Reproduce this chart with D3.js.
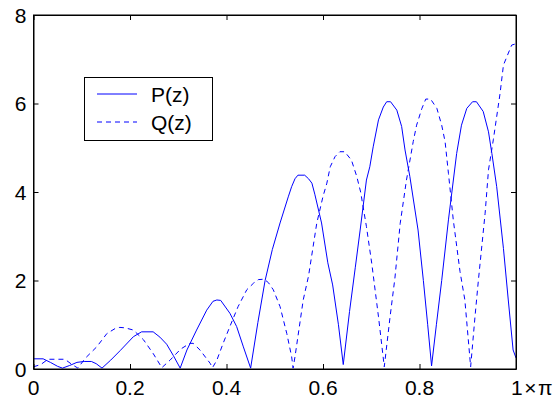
<!DOCTYPE html>
<html><head><meta charset="utf-8">
<script src="https://cdn.jsdelivr.net/npm/d3@7"></script>
<style>body{margin:0;background:#fff}svg{display:block}text{font-family:Arial,"Liberation Sans",sans-serif}</style>
</head><body>
<svg id="c" width="554" height="402"></svg>
<script>
const xTicks = [0, 0.2, 0.4, 0.6, 0.8, 1];
const xTickLabels = ["0", "0.2", "0.4", "0.6", "0.8", "1×π"];
const yTicks = [0, 2, 4, 6, 8];
const seriesNames = ["P(z)", "Q(z)"];

const pFreq = [0,0.02,0.035,0.05,0.06,0.075,0.09,0.105,0.12,0.13,0.142,0.16,0.18,0.207,0.224,0.248,0.262,0.276,0.29,0.304,0.318,0.338,0.359,0.372,0.38,0.388,0.407,0.421,0.435,0.45,0.465,0.48,0.495,0.511,0.528,0.535,0.542,0.548,0.562,0.57,0.577,0.583,0.597,0.61,0.62,0.632,0.642,0.655,0.667,0.677,0.69,0.697,0.704,0.715,0.725,0.732,0.74,0.753,0.763,0.77,0.78,0.797,0.808,0.817,0.825,0.835,0.846,0.86,0.877,0.887,0.898,0.91,0.918,0.932,0.943,0.95,0.96,0.974,0.984,0.994,1.0];
const pMag  = [0.23,0.23,0.15,0.06,0.02,0.08,0.15,0.17,0.17,0.12,0.02,0.2,0.42,0.73,0.84,0.84,0.72,0.56,0.3,0.02,0.43,0.88,1.33,1.53,1.56,1.55,1.26,0.96,0.5,0.02,1.05,2.0,2.7,3.3,3.89,4.12,4.3,4.38,4.38,4.3,4.2,3.95,3.3,2.4,1.9,1.0,0.1,1.3,2.3,3.14,4.27,4.57,5.02,5.63,5.92,6.04,6.04,5.85,5.48,4.95,4.35,3.14,2.0,1.0,0.07,1.0,2.0,3.37,4.87,5.51,5.89,6.04,6.04,5.82,5.36,4.87,4.12,2.72,1.56,0.43,0.25];

const qFreq = [0,0.015,0.03,0.05,0.065,0.08,0.092,0.107,0.131,0.152,0.17,0.179,0.19,0.207,0.228,0.248,0.266,0.283,0.305,0.324,0.331,0.345,0.366,0.371,0.38,0.393,0.407,0.424,0.442,0.456,0.466,0.478,0.487,0.497,0.511,0.525,0.535,0.538,0.542,0.559,0.57,0.587,0.6,0.608,0.615,0.625,0.635,0.645,0.659,0.67,0.678,0.69,0.701,0.715,0.727,0.739,0.749,0.76,0.773,0.787,0.794,0.805,0.813,0.823,0.836,0.846,0.853,0.86,0.87,0.884,0.894,0.906,0.915,0.922,0.936,0.943,0.953,0.967,0.974,0.991,1.0];
const qMag  = [0.05,0.1,0.22,0.22,0.22,0.1,0.02,0.24,0.5,0.8,0.92,0.94,0.93,0.88,0.66,0.35,0.03,0.2,0.45,0.58,0.58,0.43,0.13,0.03,0.2,0.58,0.96,1.41,1.79,1.94,2.02,2.03,1.95,1.79,1.41,0.8,0.28,0.02,0.28,1.56,2.1,3.29,3.9,4.2,4.57,4.8,4.91,4.91,4.72,4.35,4.0,3.22,2.39,1.18,0.05,1.18,2.05,3.29,4.27,5.14,5.51,5.89,6.1,6.1,5.89,5.51,5.14,4.42,3.37,2.2,1.56,0.05,1.18,2.0,3.52,4.5,5.18,6.23,6.87,7.32,7.35];

const L = 33.5, R = 516, T = 15, B = 369;
const svg = d3.select("#c");
const x = d3.scaleLinear().domain([0, 1]).range([L, R]);
const y = d3.scaleLinear().domain([0, 8]).range([B, T]);

svg.append("defs").append("clipPath").attr("id", "clip")
  .append("rect").attr("x", L).attr("y", T).attr("width", R - L).attr("height", B - T);

const line = d3.line().x(d => x(d[0])).y(d => y(d[1]));
const pData = pFreq.map((f, i) => [f, pMag[i]]);
const qData = qFreq.map((f, i) => [f, qMag[i]]);

const g = svg.append("g").attr("clip-path", "url(#clip)");
g.append("path").datum(pData).attr("d", line).attr("fill", "none").attr("stroke", "#0000ff").attr("stroke-width", 1);
g.append("path").datum(qData).attr("d", line).attr("fill", "none").attr("stroke", "#0000ff").attr("stroke-width", 1).attr("stroke-dasharray", "5,4");

// axes (MATLAB-style inward ticks on all sides)
const tk = 5;
const axB = svg.append("g").attr("transform", `translate(0,${B})`)
  .call(d3.axisBottom(x).tickValues(xTicks).tickSizeInner(-tk).tickSizeOuter(0).tickFormat(""));
const axT = svg.append("g").attr("transform", `translate(0,${T})`)
  .call(d3.axisTop(x).tickValues(xTicks).tickSizeInner(-tk).tickSizeOuter(0).tickFormat(""));
const axL = svg.append("g").attr("transform", `translate(${L},0)`)
  .call(d3.axisLeft(y).tickValues(yTicks).tickSizeInner(-tk).tickSizeOuter(0).tickFormat(""));
const axR = svg.append("g").attr("transform", `translate(${R},0)`)
  .call(d3.axisRight(y).tickValues(yTicks).tickSizeInner(-tk).tickSizeOuter(0).tickFormat(""));
[axB, axT, axL, axR].forEach(a => { a.selectAll("path,line").attr("stroke", "#000").attr("stroke-width", 1); });

svg.append("rect").attr("x", L).attr("y", T).attr("width", R - L).attr("height", B - T)
  .attr("fill", "none").attr("stroke", "#000").attr("stroke-width", 1);

// tick labels
const fs = 21;
xTicks.forEach((v, i) => {
  const t = svg.append("text").attr("y", 395).attr("font-size", fs).attr("fill", "#000").text(xTickLabels[i]);
  if (i === xTicks.length - 1) t.attr("x", x(v) - 5).attr("text-anchor", "start").attr("letter-spacing", 1.5);
  else t.attr("x", x(v)).attr("text-anchor", "middle");
});
yTicks.forEach(v => {
  svg.append("text").attr("x", 26.5).attr("y", y(v) + 7.5).attr("text-anchor", "end")
    .attr("font-size", fs).attr("fill", "#000").text(v);
});

// legend
const lg = svg.append("g");
lg.append("rect").attr("x", 84.5).attr("y", 77.5).attr("width", 128).attr("height", 63)
  .attr("fill", "#fff").attr("stroke", "#000").attr("stroke-width", 1);
const rows = [{ y: 94, dash: null }, { y: 122, dash: "5,4" }];
rows.forEach((r, i) => {
  const ln = lg.append("line").attr("x1", 97).attr("x2", 137).attr("y1", r.y).attr("y2", r.y)
    .attr("stroke", "#0000ff").attr("stroke-width", 1);
  if (r.dash) ln.attr("stroke-dasharray", r.dash);
  lg.append("text").attr("x", 151).attr("y", r.y + 7.5).attr("font-size", fs).attr("fill", "#000").text(seriesNames[i]);
});
</script>
</body></html>
